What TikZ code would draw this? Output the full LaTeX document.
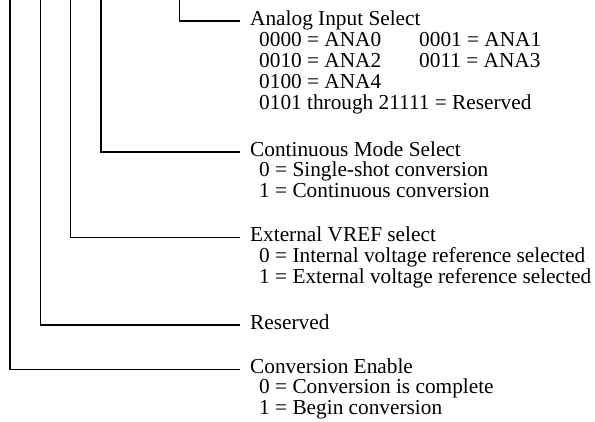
\documentclass[tikz,border=0pt]{standalone}
\usepackage{fontspec}
\setmainfont{Liberation Serif}
\begin{document}
\begin{tikzpicture}[x=1pt,y=-1pt,
  lead/.style={line width=1.2pt},
  head/.style={anchor=west, inner sep=0pt, text height=14pt, text depth=6pt,
    font=\fontsize{21.3}{21}\selectfont},
  item/.style={anchor=base west, inner sep=0pt,
    font=\fontsize{21.3}{21}\selectfont}]
\useasboundingbox (0,0) rectangle (595,421);
% tops of the bit leads
\coordinate (t1) at (179.5,-1);
\coordinate (t2) at (101,-1);
\coordinate (t3) at (70.5,-1);
\coordinate (t4) at (40.5,-1);
\coordinate (t5) at (10,-1);
% headings
\node[head] (h1) at (250,21) {Analog Input Select};
\node[head] (h2) at (250,152) {Continuous Mode Select};
\node[head] (h3) at (250,237.7) {External VREF select};
\node[head] (h4) at (250,325) {Reserved};
\node[head] (h5) at (250,369.3) {Conversion Enable};
% leads
\draw[lead] (t1) |- ([xshift=-10pt]h1.west);
\draw[lead] (t2) |- ([xshift=-10pt]h2.west);
\draw[lead] (t3) |- ([xshift=-10pt]h3.west);
\draw[lead] (t4) |- ([xshift=-10pt]h4.west);
\draw[lead] (t5) |- ([xshift=-10pt]h5.west);
% Analog items
\node[item] (a1) at (259,46.5) {0000 = ANA0};
\node[item] (a2) at (419,46.5) {0001 = ANA1};
\node[item] (a3) at (259,67.5) {0010 = ANA2};
\node[item] (a4) at (419,67.5) {0011 = ANA3};
\node[item] (a5) at (259,88.5) {0100 = ANA4};
\node[item] (a6) at (259,109.5) {0101 through 21111 = Reserved};
% Continuous items
\node[item] (c1) at (259,176.7) {0 = Single-shot conversion};
\node[item] (c2) at (259,197.4) {1 = Continuous conversion};
% External items
\node[item] (e1) at (259,262.4) {0 = Internal voltage reference selected};
\node[item] (e2) at (259,283.1) {1 = External voltage reference selected};
% Conversion items
\node[item] (v1) at (259,393.9) {0 = Conversion is complete};
\node[item] (v2) at (259,414.4) {1 = Begin conversion};
\end{tikzpicture}
\end{document}
